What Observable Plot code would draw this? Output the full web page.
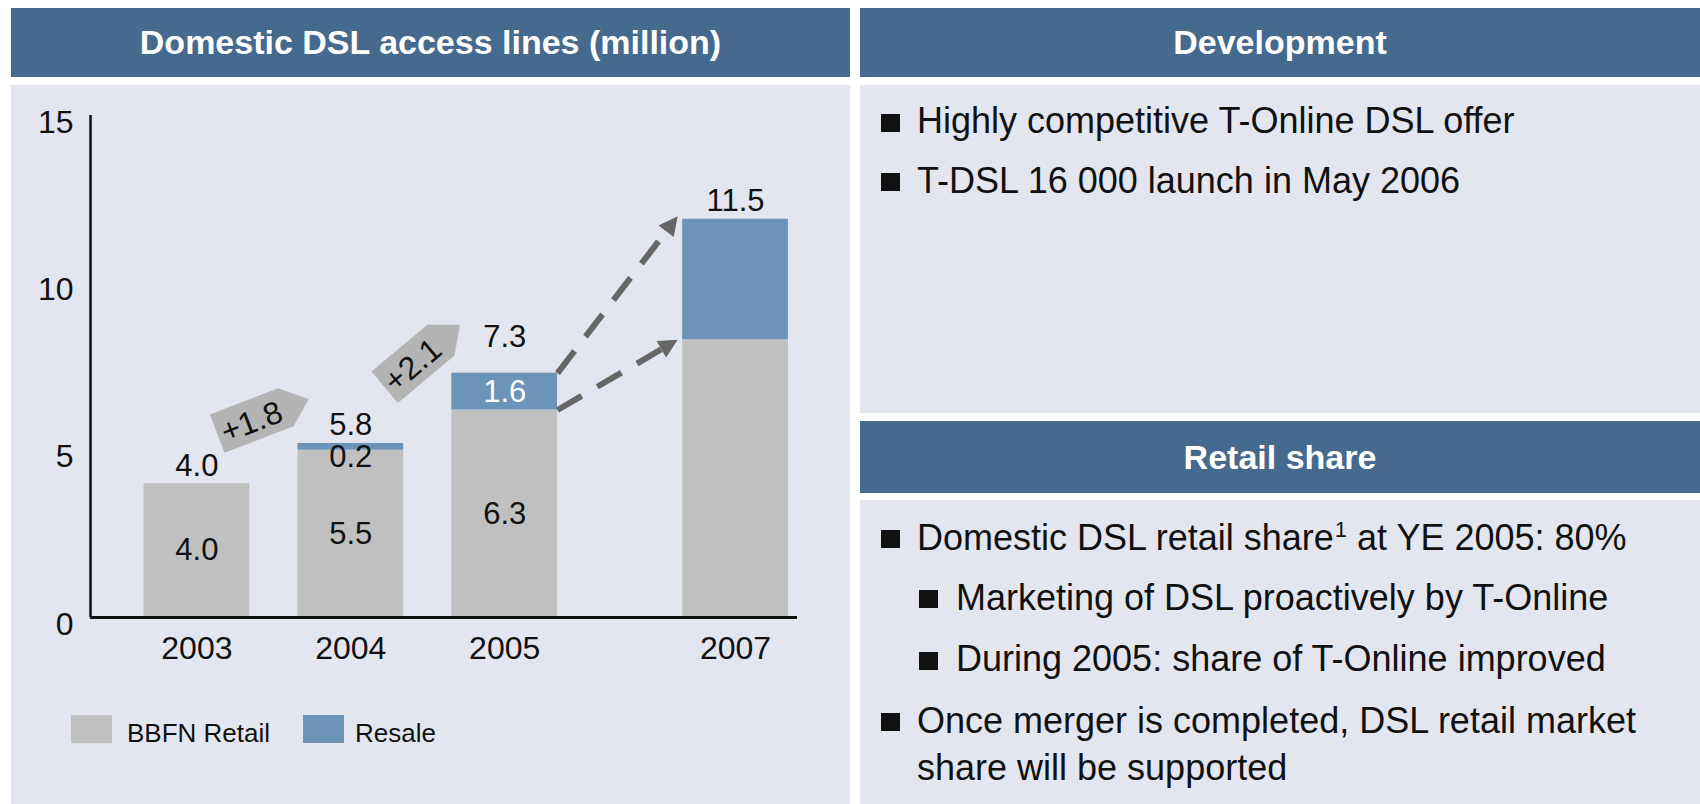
<!DOCTYPE html>
<html><head><meta charset="utf-8">
<script src="https://cdn.jsdelivr.net/npm/d3@7"></script>
<script src="https://cdn.jsdelivr.net/npm/@observablehq/plot@0.6"></script>
<style>
html,body{margin:0;padding:0;background:#fff;width:1700px;height:804px;overflow:hidden;}
body{position:relative;font-family:"Liberation Sans",Arial,sans-serif;color:#111;}
.hdr{position:absolute;background:#456a8d;color:#fff;font-weight:bold;font-size:34px;display:flex;align-items:center;justify-content:center;white-space:nowrap;}
.panel{position:absolute;background:#e3e6ee;}
.line{position:absolute;font-size:36px;line-height:36px;white-space:nowrap;color:#111;}
.line sup{font-size:22px;line-height:0;vertical-align:0;position:relative;top:-13px;margin-left:1px;}
.sq{position:absolute;width:19px;height:18px;background:#111;}
.leg{position:absolute;font-size:26px;line-height:26px;white-space:nowrap;color:#111;}
.legsw{position:absolute;width:41px;height:28px;}
#chart{position:absolute;left:11px;top:85px;}
</style></head><body>
<div class="hdr" style="left:11px;top:8px;width:839px;height:69px">Domestic DSL access lines (million)</div>
<div class="panel" style="left:11px;top:85px;width:839px;height:719px"></div>
<div class="hdr" style="left:860px;top:8px;width:840px;height:69px">Development</div>
<div class="panel" style="left:860px;top:85px;width:840px;height:328px"></div>
<div class="hdr" style="left:860px;top:421px;width:840px;height:72px">Retail share</div>
<div class="panel" style="left:860px;top:500px;width:840px;height:304px"></div>
<div id="chart"></div>
<div id="legend"></div>
<div id="text"></div>
<script>
// ---------- data ----------
const years = ["2003", "2004", "2005", "2007"];
const retail = [4.0, 5.0, 6.2, 8.3];
const resale = [0.0, 0.2, 1.1, 3.6];
const totalLabels = ["4.0", "5.8", "7.3", "11.5"];
const retailLabels = ["4.0", "5.5", "6.3", ""];
const resaleLabels = ["", "0.2", "1.6", ""];
const deltaLabels = ["+1.8", "+2.1"];
const yTicks = [0, 5, 10, 15];
const seriesNames = ["BBFN Retail", "Resale"];
const devBullets = ["Highly competitive T-Online DSL offer", "T-DSL 16 000 launch in May 2006"];
const retailBullets = [
  {level: 0, text: "Domestic DSL retail share", sup: "1", rest: " at YE 2005: 80%"},
  {level: 1, text: "Marketing of DSL proactively by T-Online"},
  {level: 1, text: "During 2005: share of T-Online improved"},
  {level: 0, text: "Once merger is completed, DSL retail market"},
  {level: -1, text: "share will be supported"}
];

// ---------- colours ----------
const cRetail = "#c0c0c0", cResale = "#6c93b8", cTag = "#b4b4b4", cArrow = "#666666";

// ---------- layout ----------
const W = 839, H = 605, mL = 79, mR = 53, mT = 30, mB = 73;
const step = 153.9;                    // px per year slot
const slot0 = 185.4;                   // px of first bar centre
const xDomain = [(mL - slot0) / step, (W - mR - slot0) / step];
const kx = step, ky = (H - mT - mB) / 15;
const hw = 52.85 / kx;                 // half bar width in slot units

// a skipped year leaves a half-step gap
const rows = years.map((y, i) => {
  const s = i + (+y - +years[0] - i) * 0.5;
  return {year: y, s, retail: retail[i], resale: resale[i], total: retail[i] + resale[i],
          tl: totalLabels[i], rl: retailLabels[i], sl: resaleLabels[i]};
});

// callouts between consecutive years
const callouts = [
  {label: deltaLabels[0], x: 0.356, y: 5.89, rot: -21},
  {label: deltaLabels[1], x: 1.404, y: 7.59, rot: -40}
];

// dashed growth arrows 2005 -> 2007
const r05 = rows[2], r07 = rows[3];
function mkArrow(y0, y1, lift) {
  const start = {x: r05.s + hw, y: y0};
  const tip = {x: r07.s - hw - 5 / kx, y: y1 + lift / ky};
  const dxp = (tip.x - start.x) * kx, dyp = (tip.y - start.y) * ky;
  const a = Math.atan2(dxp, dyp);
  const end = {x: tip.x - 12 * Math.sin(a) / kx, y: tip.y - 12 * Math.cos(a) / ky};
  return {x1: start.x, y1: start.y, x2: end.x, y2: end.y, tx: tip.x, ty: tip.y, rot: a * 180 / Math.PI};
}
const arrows = [mkArrow(r05.total, r07.total, 3), mkArrow(r05.retail, r07.retail, 0)];

const tagSymbol = {draw(ctx) {
  ctx.moveTo(-37, -20.5); ctx.lineTo(36, -20.5); ctx.lineTo(61, 0.5);
  ctx.lineTo(37, 20.5); ctx.lineTo(-37, 20.5); ctx.closePath();
}};
const headSymbol = {draw(ctx) {
  ctx.moveTo(0, 0); ctx.lineTo(9.5, 19); ctx.lineTo(-9.5, 19); ctx.closePath();
}};

const FS = 31;
const chart = Plot.plot({
  width: W, height: H, marginLeft: mL, marginRight: mR, marginTop: mT, marginBottom: mB,
  style: {background: "transparent", fontFamily: "'Liberation Sans',Arial,sans-serif", color: "#111", overflow: "visible"},
  x: {type: "linear", domain: xDomain, axis: null},
  y: {domain: [0, 15], axis: null},
  marks: [
    Plot.rect(rows, {x1: d => d.s - hw, x2: d => d.s + hw, y1: 0, y2: d => d.retail, fill: cRetail}),
    Plot.rect(rows.filter(d => d.resale > 0), {x1: d => d.s - hw, x2: d => d.s + hw, y1: d => d.retail, y2: d => d.total, fill: cResale}),
    Plot.ruleX([xDomain[0]], {stroke: "#111", strokeWidth: 2.5}),
    Plot.ruleY([0], {stroke: "#111", strokeWidth: 3}),
    Plot.axisY(yTicks, {tickSize: 0, tickPadding: 17, fontSize: FS + 1, dy: 7, label: null}),
    Plot.text(rows, {x: "s", y: 0, text: "year", dy: 31, fontSize: FS + 1, fill: "#111"}),
    Plot.text(rows, {x: "s", y: d => d.total + (d.year === "2005" ? 18 / ky : 0), text: "tl", dy: -18, fontSize: FS, fill: "#111"}),
    Plot.text(rows.filter(d => d.rl), {x: "s", y: d => d.retail / 2, text: "rl", fontSize: FS, fill: "#111"}),
    Plot.text(rows.filter(d => d.sl), {x: "s", y: d => d.resale < 0.5 ? d.retail - 0.22 : d.retail + d.resale / 2, text: "sl", fontSize: FS,
      fill: d => d.resale < 0.5 ? "#111" : "#fff"}),
    Plot.dot(callouts, {x: "x", y: "y", rotate: "rot", symbol: tagSymbol, fill: cTag, stroke: "none"}),
    Plot.text(callouts, {x: "x", y: "y", text: "label", rotate: "rot", fontSize: FS + 1, fill: "#111", dy: 2}),
    Plot.link(arrows, {x1: "x1", y1: "y1", x2: "x2", y2: "y2", stroke: cArrow, strokeWidth: 6, strokeDasharray: "28 18"}),
    Plot.dot(arrows, {x: "tx", y: "ty", rotate: "rot", symbol: headSymbol, fill: cArrow, stroke: "none"})
  ]
});
document.getElementById("chart").appendChild(chart);

// ---------- legend ----------
const leg = document.getElementById("legend");
const legX = [{sw: 71, tx: 127}, {sw: 303, tx: 355}];
[cRetail, cResale].forEach((c, i) => {
  const s = document.createElement("div"); s.className = "legsw";
  s.style.left = legX[i].sw + "px"; s.style.top = "715px"; s.style.background = c; leg.appendChild(s);
  const t = document.createElement("div"); t.className = "leg"; t.textContent = seriesNames[i];
  t.style.left = legX[i].tx + "px"; t.style.top = (741.7 - 0.8465 * 26) + "px"; leg.appendChild(t);
});

// ---------- right-hand text ----------
const tx = document.getElementById("text");
function addLine(baseline, level, html) {
  const textX = level === 1 ? 956 : 917;
  if (level >= 0) {
    const q = document.createElement("div"); q.className = "sq";
    q.style.left = (level === 1 ? 919 : 881) + "px"; q.style.top = (baseline - 20) + "px"; tx.appendChild(q);
  }
  const l = document.createElement("div"); l.className = "line";
  l.style.left = textX + "px"; l.style.top = (baseline - 0.8465 * 36) + "px"; l.innerHTML = html; tx.appendChild(l);
}
const devBase = [133.7, 193.3];
devBullets.forEach((t, i) => addLine(devBase[i], 0, t));
const retBase = [550, 610, 671.7, 733.3, 780];
retailBullets.forEach((b, i) => addLine(retBase[i], b.level, b.text + (b.sup ? "<sup>" + b.sup + "</sup>" + b.rest : "")));
</script>
</body></html>
